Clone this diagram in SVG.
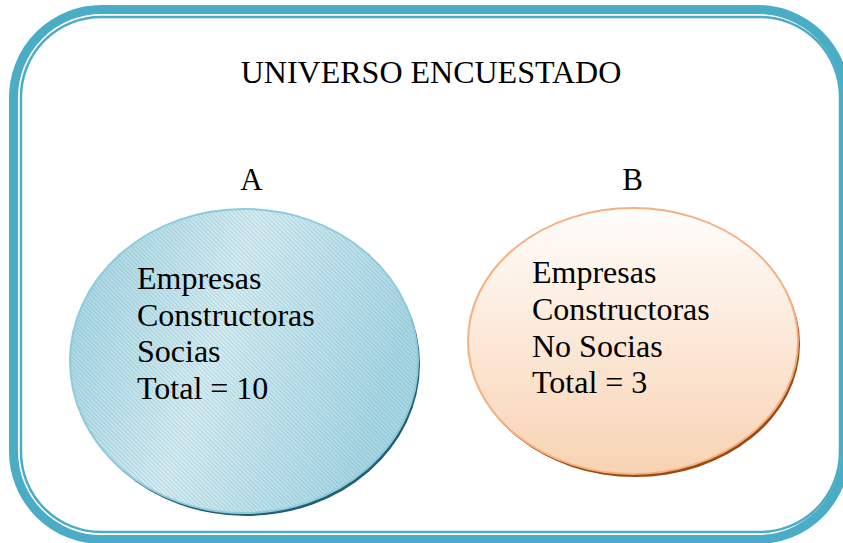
<svg xmlns="http://www.w3.org/2000/svg" width="843" height="543" viewBox="0 0 843 543">
<defs>
<style>
.t{font-family:"Liberation Serif","Times New Roman",serif;fill:#000;}
.lbl{font-size:31px;}
.body{font-size:32px;}
.frame{fill:none;stroke:#4bacc6;}
</style>
<linearGradient id="gA" x1="0" y1="0" x2="1" y2="0.3">
<stop offset="0" stop-color="#9dd2e0"/>
<stop offset="0.5" stop-color="#d6edf3"/>
<stop offset="1" stop-color="#a8d7e4"/>
</linearGradient>
<linearGradient id="gB" x1="0" y1="0" x2="0" y2="1">
<stop offset="0" stop-color="#fffdfb"/>
<stop offset="1" stop-color="#f8d3b3"/>
</linearGradient>
<pattern id="hatch" width="3" height="3" patternUnits="userSpaceOnUse" patternTransform="rotate(45)">
<rect width="3" height="0.8" fill="#6fa5b5" fill-opacity="0.4"/>
</pattern>
</defs>
<rect width="843" height="543" fill="#fff"/>
<g id="frame">
<rect class="frame" x="13.5" y="9.5" width="832" height="530" rx="88" ry="88" stroke-width="9"/>
<rect class="frame" x="21" y="17" width="819" height="515" rx="80" ry="80" stroke-width="2.5"/>
</g>
<g id="title"><text class="t" x="431" y="83" font-size="32" text-anchor="middle">UNIVERSO ENCUESTADO</text></g>
<g id="labelA"><text class="t lbl" x="251.5" y="190" text-anchor="middle">A</text></g>
<g id="labelB"><text class="t lbl" x="632.5" y="190" text-anchor="middle">B</text></g>
<g id="nodeA">
<ellipse cx="246" cy="364" rx="174" ry="152" fill="#225e72"/>
<ellipse cx="244" cy="361" rx="174" ry="152" fill="url(#gA)" stroke="#8fcadb" stroke-width="2"/>
<ellipse cx="244" cy="361" rx="173" ry="151" fill="url(#hatch)"/>
<text class="t body" x="137" y="289">Empresas</text>
<text class="t body" x="137" y="326">Constructoras</text>
<text class="t body" x="137" y="362">Socias</text>
<text class="t body" x="137" y="399">Total = 10</text>
</g>
<g id="nodeB">
<ellipse cx="635" cy="344" rx="165" ry="133" fill="#9a4a0e"/>
<ellipse cx="633" cy="341" rx="165" ry="133" fill="url(#gB)" stroke="#f3b083" stroke-width="2"/>
<text class="t body" x="532" y="283">Empresas</text>
<text class="t body" x="532" y="320">Constructoras</text>
<text class="t body" x="532" y="357">No Socias</text>
<text class="t body" x="532" y="393">Total = 3</text>
</g>
<g id="connectors"/>
</svg>
